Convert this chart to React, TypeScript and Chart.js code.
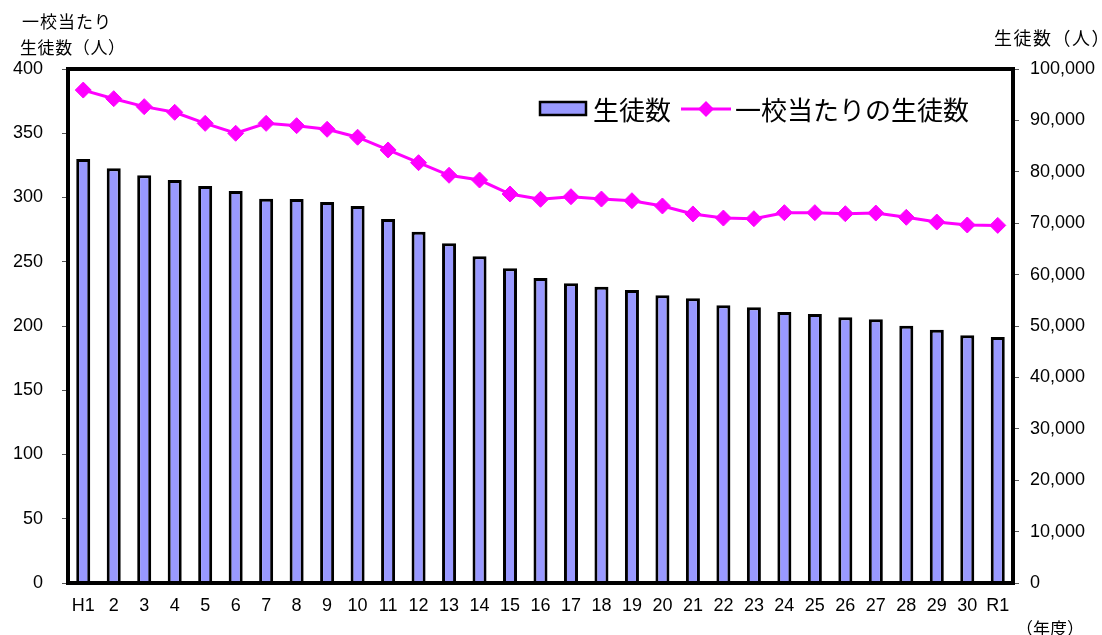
import React, { useEffect, useRef } from "react";
import { Chart, registerables } from "chart.js";

Chart.register(...registerables);

const categories = [
  "H1", "2", "3", "4", "5", "6", "7", "8", "9", "10",
  "11", "12", "13", "14", "15", "16", "17", "18", "19", "20",
  "21", "22", "23", "24", "25", "26", "27", "28", "29", "30", "R1",
];

// 生徒数（人） – right axis
const students = [
  82490, 80680, 79320, 78400, 77240, 76260, 74770, 74700, 74120, 73350,
  70820, 68350, 66090, 63560, 61220, 59350, 58300, 57650, 57000, 55970,
  55390, 54030, 53640, 52720, 52330, 51690, 51300, 50060, 49280, 48190, 47860,
];

// 一校当たりの生徒数（人） – left axis
const perSchool = [
  383.6, 376.9, 370.7, 366.3, 357.7, 350.0, 357.7, 355.9, 353.1, 346.9,
  337.0, 327.1, 317.3, 313.6, 302.7, 298.6, 300.6, 298.8, 297.5, 293.4,
  287.2, 284.0, 283.5, 288.2, 288.2, 287.4, 287.9, 284.6, 280.9, 278.6, 278.3,
];

const barLabel = "生徒数";
const lineLabel = "一校当たりの生徒数";
const leftTitle = ["一校当たり", "生徒数（人）"];
const rightTitle = "生徒数（人）";
const xTitle = "（年度）";

const BAR_COLOR = "#9999FF";
const LINE_COLOR = "#FF00FF";
const NUM_FONT = "'Liberation Sans', Arial, 'Noto Sans CJK JP', sans-serif";
const JP_FONT = "'Noto Sans CJK JP', 'Liberation Sans', sans-serif";

const framePlugin = {
  id: "frameAndLegend",
  afterDatasetsDraw(chart: any) {
    const { ctx, chartArea } = chart;
    const { left, right, top, bottom } = chartArea;
    ctx.save();
    ctx.strokeStyle = "#000";
    ctx.lineWidth = 4;
    ctx.strokeRect(left, top, right - left, bottom - top);

    // legend inside the plot area (top right)
    const ly = top + 40;
    let x = right - 473;
    ctx.fillStyle = BAR_COLOR;
    ctx.fillRect(x, ly - 7, 46, 13);
    ctx.lineWidth = 2.5;
    ctx.strokeStyle = "#000";
    ctx.strokeRect(x, ly - 7, 46, 13);
    ctx.font = `26px ${JP_FONT}`;
    ctx.fillStyle = "#000";
    ctx.textBaseline = "middle";
    ctx.textAlign = "left";
    ctx.fillText(barLabel, x + 53, ly + 1);
    x = right - 332;
    ctx.strokeStyle = LINE_COLOR;
    ctx.lineWidth = 3;
    ctx.beginPath();
    ctx.moveTo(x, ly);
    ctx.lineTo(x + 50, ly);
    ctx.stroke();
    const cx = x + 25;
    ctx.fillStyle = LINE_COLOR;
    ctx.beginPath();
    ctx.moveTo(cx - 8, ly);
    ctx.lineTo(cx, ly - 8);
    ctx.lineTo(cx + 8, ly);
    ctx.lineTo(cx, ly + 8);
    ctx.closePath();
    ctx.fill();
    ctx.fillStyle = "#000";
    ctx.fillText(lineLabel, x + 54, ly + 1);
    ctx.restore();
  },
};

export default function App() {
  const canvasRef = useRef<HTMLCanvasElement | null>(null);

  useEffect(() => {
    const canvas = canvasRef.current;
    if (!canvas) return;
    const chart = new Chart(canvas, {
      type: "bar",
      data: {
        labels: categories,
        datasets: [
          {
            type: "line",
            label: lineLabel,
            data: perSchool,
            yAxisID: "y",
            order: 0,
            borderColor: LINE_COLOR,
            borderWidth: 3,
            backgroundColor: LINE_COLOR,
            pointStyle: "rectRot",
            pointRadius: 8,
            pointBorderWidth: 1,
            pointBackgroundColor: LINE_COLOR,
            pointBorderColor: LINE_COLOR,
            tension: 0,
          } as any,
          {
            type: "bar",
            label: barLabel,
            data: students,
            yAxisID: "y1",
            order: 1,
            backgroundColor: BAR_COLOR,
            borderColor: "#000",
            borderWidth: 3,
            barPercentage: 0.46,
            categoryPercentage: 1,
          } as any,
        ],
      },
      options: {
        responsive: false,
        animation: false,
        devicePixelRatio: 1,
        layout: { padding: { left: 0, right: 0, top: 69, bottom: 0 } },
        plugins: {
          legend: { display: false },
          tooltip: { enabled: false },
          title: { display: false },
        },
        scales: {
          x: {
            grid: { display: false, drawTicks: false },
            border: { display: false },
            ticks: {
              color: "#000",
              font: { family: NUM_FONT, size: 18 },
              maxRotation: 0,
              autoSkip: false,
              padding: 12,
            },
            afterFit: (s: any) => {
              s.height = 52;
            },
          },
          y: {
            position: "left",
            min: 0,
            max: 400,
            grid: {
              drawOnChartArea: false,
              drawTicks: true,
              tickLength: 6,
              color: "#555",
              lineWidth: 1,
            },
            border: { display: false },
            ticks: {
              stepSize: 50,
              color: "#000",
              font: { family: NUM_FONT, size: 18 },
              padding: 19,
            },
            afterFit: (s: any) => {
              s.width = 68;
            },
          },
          y1: {
            position: "right",
            min: 0,
            max: 100000,
            grid: {
              drawOnChartArea: false,
              drawTicks: true,
              tickLength: 6,
              color: "#555",
              lineWidth: 1,
            },
            border: { display: false },
            ticks: {
              stepSize: 10000,
              color: "#000",
              font: { family: NUM_FONT, size: 18 },
              padding: 11,
              callback: (v: any) => Number(v).toLocaleString("en-US"),
            },
            afterFit: (s: any) => {
              s.width = 89;
            },
          },
        },
      },
      plugins: [framePlugin],
    });
    return () => chart.destroy();
  }, []);

  const textStyle = (size: number, spacing: number): React.CSSProperties => ({
    position: "absolute",
    fontFamily: JP_FONT,
    fontSize: size,
    lineHeight: `${size + 4}px`,
    letterSpacing: spacing,
    color: "#000",
    whiteSpace: "nowrap",
  });

  return (
    <div
      style={{
        position: "absolute",
        left: 0,
        top: 0,
        width: 1102,
        height: 635,
        background: "#fff",
      }}
    >
      <canvas ref={canvasRef} width={1102} height={635} style={{ display: "block" }} />
      <div style={{ ...textStyle(17, 1), left: 22, top: 10 }}>{leftTitle[0]}</div>
      <div style={{ ...textStyle(17, 0.6), left: 20, top: 36 }}>{leftTitle[1]}</div>
      <div style={{ ...textStyle(18, 1.5), left: 994, top: 26 }}>{rightTitle}</div>
      <div style={{ ...textStyle(17, 0), left: 1016, top: 617 }}>{xTitle}</div>
    </div>
  );
}
